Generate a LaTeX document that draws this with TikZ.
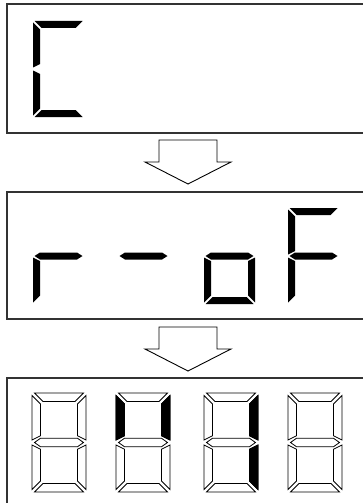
\documentclass[tikz,border=0pt]{standalone}
\usepackage{tikz}
\usetikzlibrary{calc}
% digit size: width, height, stroke, gap
\newcommand{\dgw}{51}
\newcommand{\dgh}{96}
\newcommand{\dgt}{7}
\newcommand{\dgp}{1.5}
\newcommand{\dgm}{\dgh/2}
\tikzset{
  panel/.style={draw=black!80,line width=1.3pt,fill=white},
  bigarr/.style={draw,line width=0.9pt,fill=white,line join=miter},
  on/.style={fill=black},
  off/.style={draw,fill=white,line width=0.8pt},
  onx/.style={draw,fill=black,line width=0.8pt},
  seg a/.pic={\path[pic actions] ({\dgp},0) -- ({\dgw-\dgp},0) -- ({\dgw-\dgt-\dgp},{\dgt}) -- ({\dgt+\dgp},{\dgt}) -- cycle;},
  seg b/.pic={\path[pic actions] ({\dgw},{\dgp}) -- ({\dgw},{\dgm-\dgp}) -- ({\dgw-\dgt},{\dgm-\dgt/2-\dgp}) -- ({\dgw-\dgt},{\dgt+\dgp}) -- cycle;},
  seg c/.pic={\path[pic actions] ({\dgw},{\dgm+\dgp}) -- ({\dgw},{\dgh-\dgp}) -- ({\dgw-\dgt},{\dgh-\dgt-\dgp}) -- ({\dgw-\dgt},{\dgm+\dgt/2+\dgp}) -- cycle;},
  seg d/.pic={\path[pic actions] ({\dgp},{\dgh}) -- ({\dgw-\dgp},{\dgh}) -- ({\dgw-\dgt-\dgp},{\dgh-\dgt}) -- ({\dgt+\dgp},{\dgh-\dgt}) -- cycle;},
  seg e/.pic={\path[pic actions] (0,{\dgm+\dgp}) -- (0,{\dgh-\dgp}) -- ({\dgt},{\dgh-\dgt-\dgp}) -- ({\dgt},{\dgm+\dgt/2+\dgp}) -- cycle;},
  seg f/.pic={\path[pic actions] (0,{\dgp}) -- (0,{\dgm-\dgp}) -- ({\dgt},{\dgm-\dgt/2-\dgp}) -- ({\dgt},{\dgt+\dgp}) -- cycle;},
  seg g/.pic={\path[pic actions] ({\dgp},{\dgm}) -- ({\dgt},{\dgm-\dgt/2}) -- ({\dgw-\dgt},{\dgm-\dgt/2}) -- ({\dgw-\dgp},{\dgm}) -- ({\dgw-\dgt},{\dgm+\dgt/2}) -- ({\dgt},{\dgm+\dgt/2}) -- cycle;},
}
% x, y, style, segments
\newcommand{\digit}[4]{\foreach \s in {#4}{\pic[#3] at (#1,#2) {seg \s};}}

\begin{document}
\begin{tikzpicture}[x=1pt,y=-1pt]
 \useasboundingbox (0,0) rectangle (363,503);
 \clip (0,0) rectangle (363,503);
 % panels
 \draw[panel] (7,4) rectangle (372,133);
 \draw[panel] (7,192) rectangle (372,319);
 \draw[panel] (7,378) rectangle (372,512);
 % arrows between panels
 \foreach \y in {140,327}
  \draw[bigarr] (159,\y) -- ++(58,0) -- ++(0,22) -- ++(14,0) -- ++(-43,22) -- ++(-43,-22) -- ++(14,0) -- cycle;
 % panel 1: C
 \digit{33}{21}{on}{a,f,e,d}
 % panel 2: r-oF
 \digit{33}{208}{on}{e,g}
 \digit{118}{208}{on}{g}
 \digit{204}{208}{on}{c,d,e,g}
 \digit{288}{208}{on}{a,e,f,g}
 % panel 3: outlined segments
 \begin{scope}
  \renewcommand{\dgw}{54}\renewcommand{\dgh}{99}\renewcommand{\dgt}{8.5}\renewcommand{\dgp}{2.5}
  \foreach \x in {32,116,204,288}{\digit{\x}{393}{off}{a,b,c,d,e,f,g}}
  \digit{116}{393}{onx}{b,f}
  \digit{204}{393}{onx}{b,c}
 \end{scope}
\end{tikzpicture}
\end{document}
